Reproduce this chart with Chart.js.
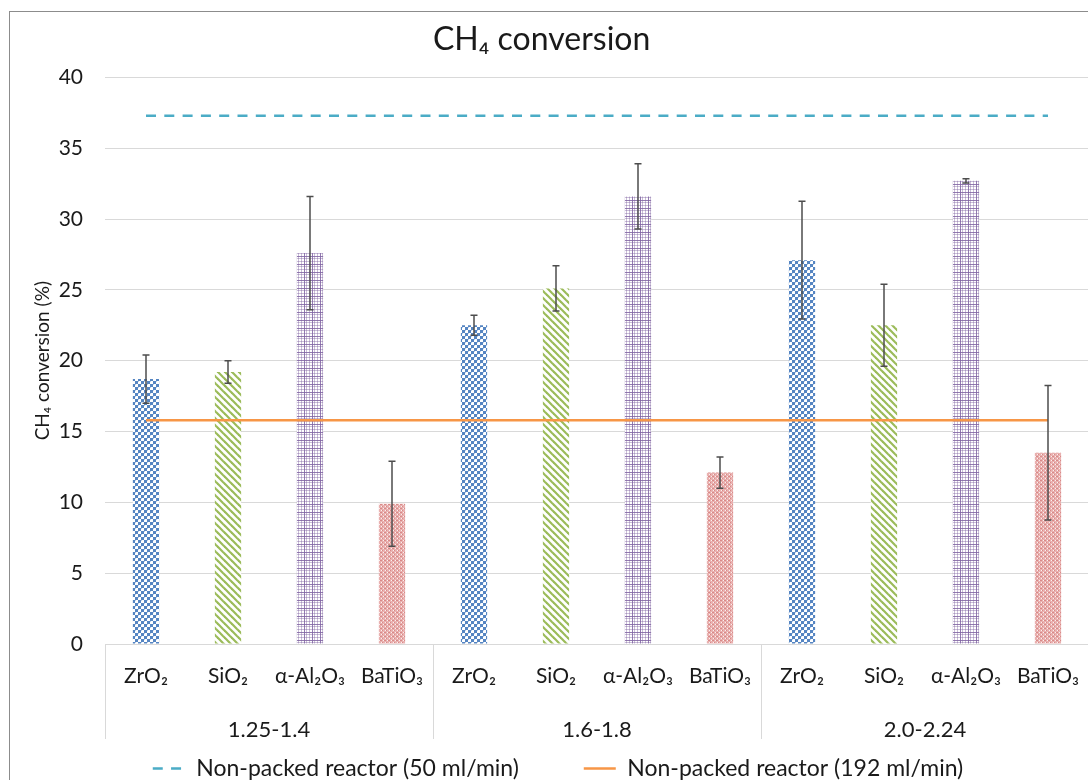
<!DOCTYPE html>
<html><head><meta charset="utf-8">
<script src="https://cdn.jsdelivr.net/npm/chart.js@4.4.1/dist/chart.umd.min.js"></script>
<style>
html,body{margin:0;padding:0;overflow:hidden;background:#fff;width:1088px;height:780px}
#wrap{position:absolute;left:0;top:0;width:1100px;height:790px}
</style></head>
<body><div id="wrap"><canvas id="c" width="1100" height="790"></canvas></div>
<script>
// ---------- data ----------
const groups = ['1.25-1.4', '1.6-1.8', '2.0-2.24'];
const materials = ['ZrO₂', 'SiO₂', 'α-Al₂O₃', 'BaTiO₃'];
const zro2 = [18.7, 22.5, 27.1];
const zro2Err = [1.7, 0.7, 4.15];
const sio2 = [19.2, 25.1, 22.5];
const sio2Err = [0.8, 1.6, 2.9];
const al2o3 = [27.6, 31.6, 32.7];
const al2o3Err = [4.0, 2.3, 0.15];
const batio3 = [9.9, 12.1, 13.5];
const batio3Err = [3.0, 1.1, 4.75];
const nonPacked50 = [37.3, 37.3, 37.3, 37.3, 37.3, 37.3, 37.3, 37.3, 37.3, 37.3, 37.3, 37.3];
const nonPacked192 = [15.8, 15.8, 15.8, 15.8, 15.8, 15.8, 15.8, 15.8, 15.8, 15.8, 15.8, 15.8];
const yTicks = [0, 5, 10, 15, 20, 25, 30, 35, 40];
const lineLabels = ['Non-packed reactor (50 ml/min)', 'Non-packed reactor (192 ml/min)'];

// ---------- patterns ----------
function makePattern(size, draw) {
  const c = document.createElement('canvas');
  c.width = size; c.height = size;
  const g = c.getContext('2d');
  draw(g, size);
  return document.getElementById('c').getContext('2d').createPattern(c, 'repeat');
}
const patZr = makePattern(6, (g) => {
  g.fillStyle = '#ffffff'; g.fillRect(0, 0, 6, 6);
  g.fillStyle = '#5585C2';
  g.fillRect(0, 0, 3, 3); g.fillRect(3, 3, 3, 3);
  g.fillStyle = '#B9CDE6';
  g.fillRect(3, 0, 1, 1); g.fillRect(0, 3, 1, 1);
});
const patSi = makePattern(7, (g, s) => {
  g.fillStyle = '#ffffff'; g.fillRect(0, 0, s, s);
  g.strokeStyle = '#9BBB59'; g.lineWidth = 2.2;
  for (let k = -1; k <= 1; k++) {
    g.beginPath(); g.moveTo(k * s - 1, -1); g.lineTo(k * s + s + 1, s + 1); g.stroke();
  }
});
const patAl = makePattern(8, (g) => {
  g.fillStyle = '#ffffff'; g.fillRect(0, 0, 8, 8);
  g.fillStyle = 'rgba(128,100,162,0.42)';
  g.fillRect(2, 0, 1, 8); g.fillRect(5, 0, 1, 8);
  g.fillRect(0, 2, 8, 1); g.fillRect(0, 5, 8, 1);
  g.fillStyle = 'rgba(128,100,162,0.85)';
  g.fillRect(0, 0, 1, 8); g.fillRect(0, 0, 8, 1);
});
const patBa = makePattern(4, (g) => {
  g.fillStyle = '#E9B1B0'; g.fillRect(0, 0, 4, 4);
  g.fillStyle = '#D88987'; g.fillRect(0, 0, 1, 1); g.fillRect(2, 2, 1, 1); g.fillRect(1, 0, 1, 1);
  g.fillStyle = '#FBF0F0'; g.fillRect(1, 2, 1, 1); g.fillRect(3, 0, 1, 1);
});

// ---------- build table ----------
const labels = [];
groups.forEach(() => materials.forEach(m => labels.push(m)));
function spread(vals, mIdx) {
  const out = [];
  groups.forEach((g, gi) => materials.forEach((m, mi) => out.push(mi === mIdx ? vals[gi] : null)));
  return out;
}
const barSeries = [
  { vals: zro2, err: zro2Err, pat: patZr },
  { vals: sio2, err: sio2Err, pat: patSi },
  { vals: al2o3, err: al2o3Err, pat: patAl },
  { vals: batio3, err: batio3Err, pat: patBa }
];
const barDatasets = barSeries.map((s, i) => ({
  type: 'bar',
  label: materials[i],
  data: spread(s.vals, i),
  errors: spread(s.err, i),
  backgroundColor: s.pat,
  borderWidth: 0,
  barPercentage: 0.32,
  categoryPercentage: 1,
  skipNull: true,
  order: 2
}));
const lineDatasets = [
  { type: 'line', label: lineLabels[0], data: nonPacked50, borderColor: '#4BACC6', backgroundColor: '#4BACC6',
    borderWidth: 2.5, borderDash: [10, 8.3], pointRadius: 0, fill: false, order: 0 },
  { type: 'line', label: lineLabels[1], data: nonPacked192, borderColor: '#F79646', backgroundColor: '#F79646',
    borderWidth: 2.5, pointRadius: 0, fill: false, order: 1 }
];

// ---------- plugins ----------
const FONT = "Lato, 'DejaVu Sans', sans-serif";
const TXT = '#1a1a1a';
const frame = {
  id: 'frame',
  beforeDraw(chart) {
    const ctx = chart.ctx;
    ctx.save();
    ctx.fillStyle = '#fff'; ctx.fillRect(0, 0, chart.width, chart.height);
    ctx.strokeStyle = '#8c8c8c'; ctx.lineWidth = 1;
    ctx.strokeRect(9.5, 11.5, chart.width + 20, chart.height + 20);
    ctx.restore();
  }
};
const errorBars = {
  id: 'errorBars',
  afterDatasetsDraw(chart) {
    const ctx = chart.ctx, ys = chart.scales.y;
    chart.data.datasets.forEach((ds, di) => {
      if (!ds.errors) return;
      const meta = chart.getDatasetMeta(di);
      meta.data.forEach((el, i) => {
        const v = ds.data[i], e = ds.errors[i];
        if (v == null || e == null) return;
        const x = el.x, yt = ys.getPixelForValue(v + e), yb = ys.getPixelForValue(v - e);
        ctx.save();
        ctx.strokeStyle = '#4d4d4d'; ctx.lineWidth = 1.5;
        ctx.beginPath();
        ctx.moveTo(x, yt); ctx.lineTo(x, yb);
        ctx.moveTo(x - 3.5, yt); ctx.lineTo(x + 3.5, yt);
        ctx.moveTo(x - 3.5, yb); ctx.lineTo(x + 3.5, yb);
        ctx.stroke();
        ctx.restore();
      });
    });
  }
};
const separators = {
  id: 'separators',
  afterDraw(chart) {
    const ctx = chart.ctx, xs = chart.scales.x, x2 = chart.scales.x2;
    const n = materials.length;
    const bounds = [xs.left];
    for (let g = 1; g < groups.length; g++) {
      bounds.push((xs.getPixelForValue(g * n - 1) + xs.getPixelForValue(g * n)) / 2);
    }
    bounds.push(xs.right);
    ctx.save();
    ctx.strokeStyle = '#D9D9D9'; ctx.lineWidth = 1;
    ctx.beginPath();
    bounds.forEach(b => {
      const bx = Math.round(b) + 0.5;
      ctx.moveTo(bx, chart.chartArea.bottom); ctx.lineTo(bx, x2.top + 49);
    });
    ctx.stroke();
    ctx.restore();
  }
};

// ---------- chart ----------
new Chart(document.getElementById('c'), {
  data: { labels: labels, datasets: [...lineDatasets, ...barDatasets] },
  options: {
    responsive: false,
    animation: false,
    devicePixelRatio: 1,
    layout: { padding: { left: 27, right: 11, top: 14, bottom: 0 } },
    plugins: {
      title: {
        display: true, text: 'CH₄ conversion' + '\u00a0'.repeat(4), color: TXT,
        font: { family: FONT, size: 32, weight: 'normal', lineHeight: 1.2 },
        padding: { top: 6, bottom: 19 }
      },
      legend: {
        position: 'bottom',
        labels: {
          usePointStyle: true, pointStyle: 'line', pointStyleWidth: 32,
          color: TXT, padding: 6,
          font: { family: FONT, size: 23 },
          generateLabels: (chart) => {
            return chart.data.datasets
              .map((ds, i) => ({ ds, i }))
              .filter(o => lineLabels.includes(o.ds.label))
              .map((o, k, arr) => ({
                text: o.ds.label + (k < arr.length - 1 ? '\u00a0'.repeat(10) : ''),
                fillStyle: o.ds.borderColor,
                strokeStyle: o.ds.borderColor,
                lineWidth: 2.5,
                lineDash: o.ds.borderDash || [],
                pointStyle: 'line',
                fontColor: TXT,
                hidden: false,
                datasetIndex: o.i
              }));
          }
        }
      },
      tooltip: { enabled: false }
    },
    scales: {
      x: {
        type: 'category', position: 'bottom', offset: true,
        grid: { display: false }, border: { display: false },
        ticks: { color: TXT, padding: 12, maxRotation: 0, autoSkip: false, font: { family: FONT, size: 21 } },
        afterFit: (s) => { s.height = 46; }
      },
      x2: {
        type: 'category', position: 'bottom', offset: true, labels: groups,
        grid: { display: false }, border: { display: false },
        ticks: { color: TXT, padding: 19, maxRotation: 0, font: { family: FONT, size: 22 } },
        afterFit: (s) => { s.height = 61; }
      },
      y: {
        min: 0, max: 40,
        afterBuildTicks: (s) => { s.ticks = yTicks.map(v => ({ value: v })); },
        grid: { color: '#D9D9D9', lineWidth: 1, drawTicks: false },
        border: { display: false },
        ticks: { color: TXT, padding: 22, font: { family: FONT, size: 21 } },
        title: { display: true, text: 'CH₄ conversion (%)', color: TXT, padding: { top: 4, bottom: 4 },
          font: { family: FONT, size: 19 } },
        afterFit: (s) => { s.width = 78; }
      }
    }
  },
  plugins: [frame, errorBars, separators]
});
</script>
</body></html>
